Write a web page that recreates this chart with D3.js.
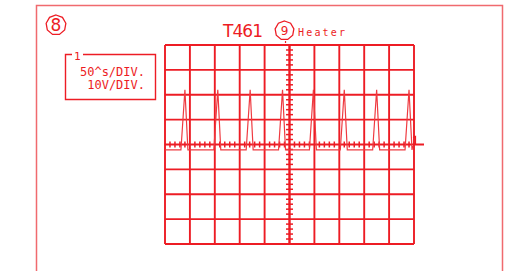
<!DOCTYPE html>
<html>
<head>
<meta charset="utf-8">
<script src="https://cdn.jsdelivr.net/npm/d3@7"></script>
<style>
  body { margin: 0; background: #fff; }
</style>
</head>
<body>
<div id="scope"></div>
<script>
// scope settings
var title = "T461"
var pointNumber = "9"
var pointName = "Heater"
var pageNumber = "8"
var channel = "1"
var settings = ["50^s/DIV.", "10V/DIV."]

// time axis in microseconds, voltage axis in volts
var timeDomain = [0, 500]
var voltDomain = [-40, 40]
var timeDivs = 10
var voltDivs = 8

// waveform points [time (us), volts]
var waveTime = [0, 32, 40, 46, 98, 106, 112, 163, 171, 177, 228, 236, 242,
  290, 298, 304, 352, 360, 366, 417, 425, 431, 482, 490, 496, 497.5]
var waveVolt = [-2.2, -2.2, 22, -2.2, -2.2, 22, -2.2, -2.2, 22, -2.2, -2.2, 22, -2.2,
  -2.2, 22, -2.2, -2.2, 22, -2.2, -2.2, 22, -2.2, -2.2, 22, -2.2, -0.6]

var red = "#ed1c24"
var width = 508,
  height = 271

var svg = d3.select("#scope")
  .append("svg")
  .attr("width", width)
  .attr("height", height)

// outer page frame, open at the bottom
svg.append("path")
  .attr("d", "M36.5,275 L36.5,5.5 L502.5,5.5 L502.5,275")
  .attr("fill", "none")
  .attr("stroke", "#f06a6e")
  .attr("stroke-width", 1.5)

// scales for the graticule
var x = d3.scaleLinear().domain(timeDomain).range([165, 414])
var y = d3.scaleLinear().domain(voltDomain).range([244, 45])

var g = svg.append("g")

// grid lines
var xMajor = d3.range(timeDivs + 1).map(function(i) {
  return timeDomain[0] + i * (timeDomain[1] - timeDomain[0]) / timeDivs })
var yMajor = d3.range(voltDivs + 1).map(function(i) {
  return voltDomain[0] + i * (voltDomain[1] - voltDomain[0]) / voltDivs })

g.selectAll(".vline")
  .data(xMajor)
  .enter()
  .append("line")
  .attr("x1", d => x(d)).attr("x2", d => x(d))
  .attr("y1", y(voltDomain[1])).attr("y2", y(voltDomain[0]))
  .attr("stroke", red)
  .attr("stroke-width", d => d == 250 ? 2.4 : 1.9)

g.selectAll(".hline")
  .data(yMajor)
  .enter()
  .append("line")
  .attr("y1", d => y(d)).attr("y2", d => y(d))
  .attr("x1", x(timeDomain[0]))
  .attr("x2", d => d == 0 ? x(timeDomain[1]) + 10 : x(timeDomain[1]))
  .attr("stroke", red)
  .attr("stroke-width", 1.9)

// minor ticks on the center lines, five per division
var xMinor = d3.range(timeDivs * 5 + 1).map(function(i) { return i * 10 })
var yMinor = d3.range(voltDivs * 5 + 1).map(function(i) { return -40 + i * 2 })

g.selectAll(".xtick")
  .data(xMinor.filter(d => d % 50 != 0))
  .enter()
  .append("line")
  .attr("x1", d => x(d)).attr("x2", d => x(d))
  .attr("y1", y(0) - 3).attr("y2", y(0) + 3)
  .attr("stroke", red)
  .attr("stroke-width", 1.5)

g.selectAll(".ytick")
  .data(yMinor.filter(d => d % 10 != 0))
  .enter()
  .append("line")
  .attr("y1", d => y(d)).attr("y2", d => y(d))
  .attr("x1", x(250) - 3.5).attr("x2", x(250) + 3.5)
  .attr("stroke", red)
  .attr("stroke-width", 1.5)

// small trigger mark above the grid
g.append("line")
  .attr("x1", x(242)).attr("x2", x(242))
  .attr("y1", y(40) - 4).attr("y2", y(40) - 2)
  .attr("stroke", red)
  .attr("stroke-width", 1.2)

// waveform
var line = d3.line()
  .x(function(d, i) { return x(waveTime[i]) })
  .y(function(d, i) { return y(waveVolt[i]) })

g.append("path")
  .datum(waveTime)
  .attr("d", line)
  .attr("fill", "none")
  .attr("stroke", "#ef3a40")
  .attr("stroke-width", 1.2)

// ground level marker on the right
g.append("path")
  .attr("d", "M" + (x(500) - 1) + "," + (y(0) - 7) + " L" + (x(500) + 1.5) + "," + (y(0) - 8) +
    " L" + (x(500) + 1.5) + "," + y(0))
  .attr("fill", "none")
  .attr("stroke", red)
  .attr("stroke-width", 1.2)

// title
svg.append("text")
  .attr("x", 223)
  .attr("y", 37)
  .attr("textLength", 40)
  .style("font-family", "DejaVu Sans")
  .style("font-size", "17px")
  .style("fill", red)
  .text(title)

// numbered circles
function numberCircle(cx, cy, r, label, size) {
  var pts = d3.range(9).map(function(i) {
    var a = i / 9 * 2 * Math.PI - Math.PI / 2
    return [cx + r * Math.cos(a), cy + r * Math.sin(a)]
  })
  svg.append("path")
    .attr("d", d3.line().curve(d3.curveLinearClosed)(pts))
    .attr("fill", "none")
    .attr("stroke", red)
    .attr("stroke-width", 1.3)
  svg.append("text")
    .attr("x", cx)
    .attr("y", cy + size * 0.36)
    .attr("text-anchor", "middle")
    .style("font-family", "DejaVu Sans")
    .style("font-size", size + "px")
    .style("fill", red)
    .text(label)
}
numberCircle(284.5, 30.5, 9.5, pointNumber, 12)
numberCircle(56, 25, 10, pageNumber, 17)

svg.append("text")
  .attr("x", 298)
  .attr("y", 36)
  .attr("textLength", 47)
  .style("font-family", "DejaVu Sans Mono")
  .style("font-size", "10px")
  .style("fill", red)
  .text(pointName)

// settings box with the channel number in the top line
svg.append("path")
  .attr("d", "M72,54.5 L65.5,54.5 L65.5,99.5 L155.5,99.5 L155.5,54.5 L83,54.5")
  .attr("fill", "none")
  .attr("stroke", red)
  .attr("stroke-width", 1.4)

svg.append("text")
  .attr("x", 74)
  .attr("y", 60)
  .style("font-family", "DejaVu Sans Mono")
  .style("font-size", "11px")
  .style("fill", red)
  .text(channel)

svg.selectAll(".setting")
  .data(settings)
  .enter()
  .append("text")
  .attr("x", 145)
  .attr("y", (d, i) => 75.5 + i * 13.5)
  .attr("text-anchor", "end")
  .style("font-family", "DejaVu Sans Mono")
  .style("font-size", "12px")
  .style("fill", red)
  .text(d => d)
</script>
</body>
</html>
